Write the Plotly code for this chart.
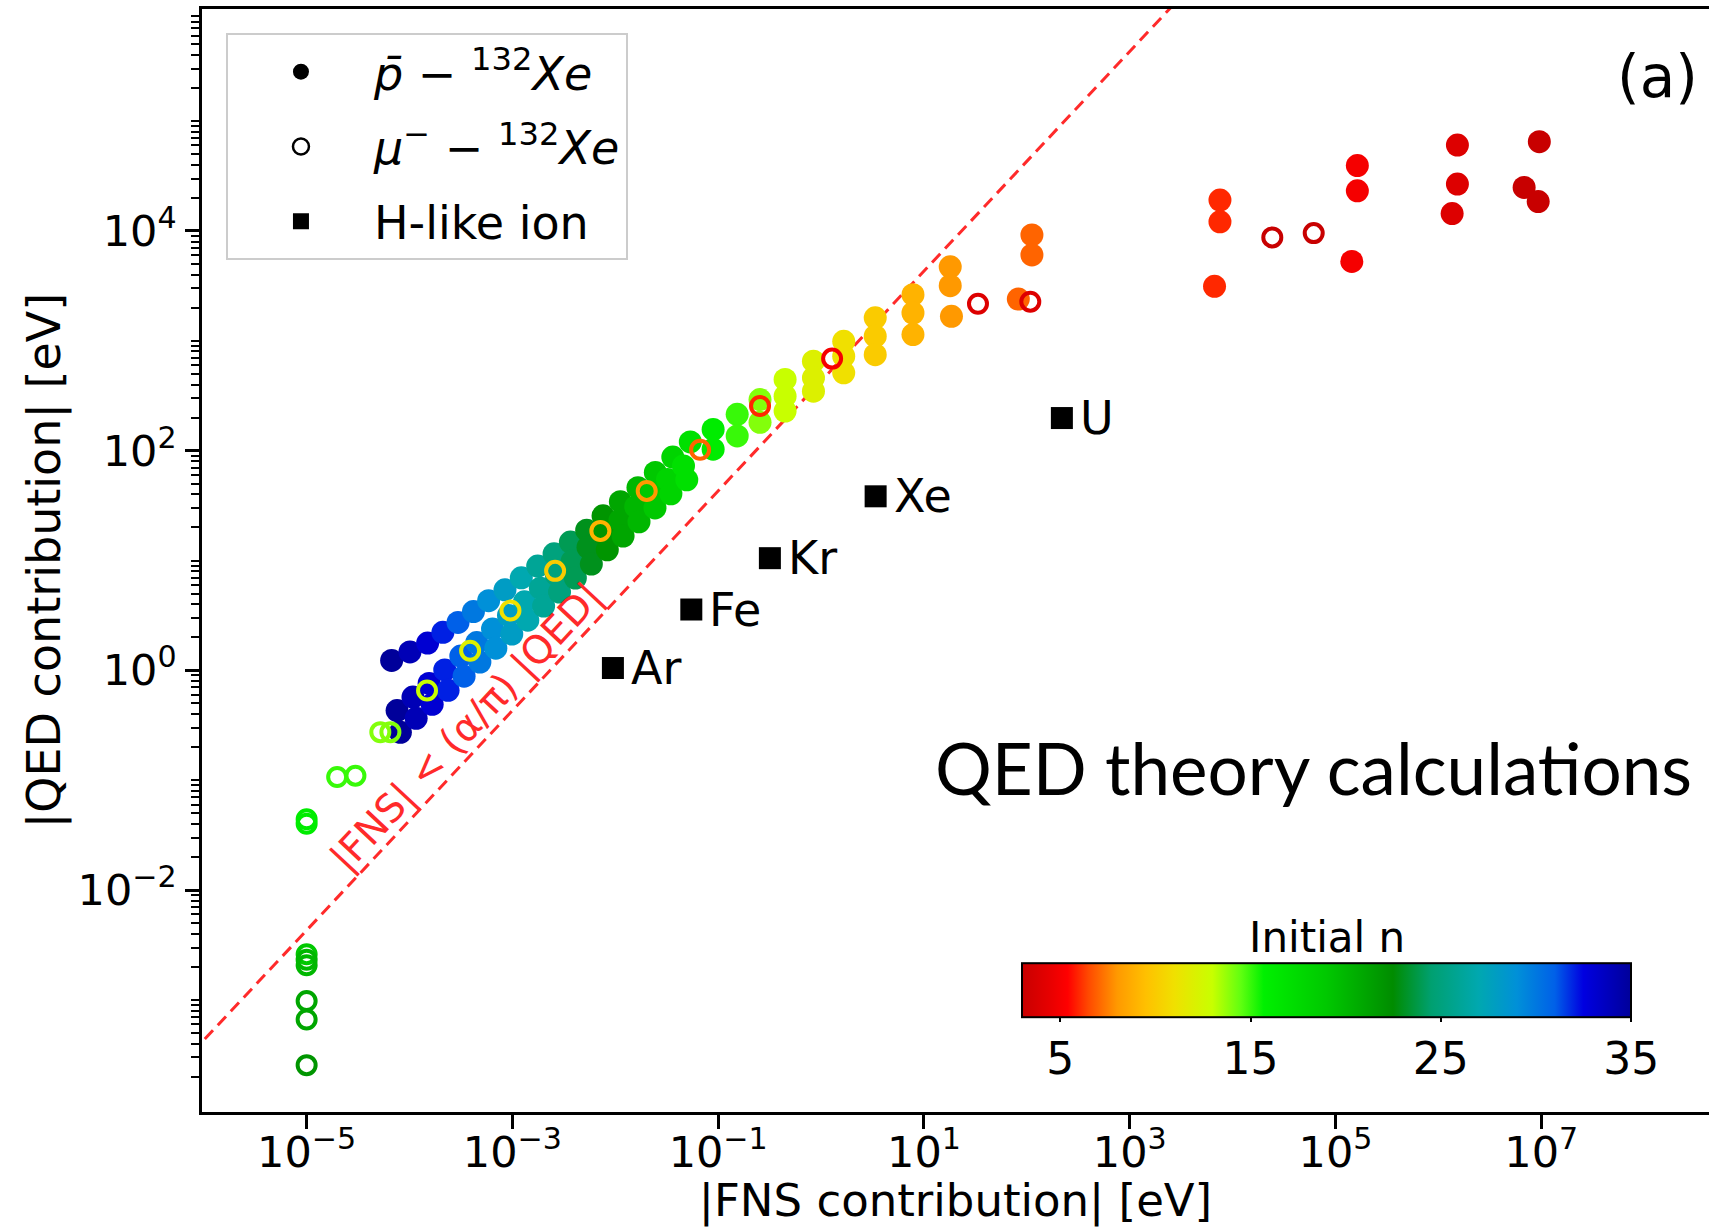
import math
import plotly.graph_objects as go

# ---------------- data ----------------
# p̄–132Xe, low initial n (groups of stacked transitions)
low_n = [3, 3, 3, 4, 4, 4, 5, 5, 5, 6, 6, 6, 7, 7, 7, 8, 8, 8, 9, 9, 9, 10, 10, 10,
         11, 11, 11, 12, 12, 12, 13, 13, 13, 14, 14, 15, 15, 16, 16]
low_fns = [9.57e6, 6.81e6, 9.33e6, 1.53e6, 1.53e6, 1.36e6, 1.63e5, 1.63e5, 1.44e5,
           7.53e3, 7.53e3, 6.67e3, 112, 112, 82.6, 18.0, 18.0, 18.5, 7.82, 7.82, 7.82,
           3.36, 3.36, 3.36, 1.66, 1.66, 1.66, 0.843, 0.843, 0.843, 0.447, 0.447, 0.447,
           0.255, 0.255, 0.153, 0.153, 0.0893, 0.0893]
low_qed = [6.49e4, 2.49e4, 1.85e4, 6.05e4, 2.67e4, 1.44e4, 3.93e4, 2.32e4, 5.28e3,
           1.91e4, 1.21e4, 3.13e3, 9.20e3, 6.05e3, 2.40e3, 4.71e3, 3.17e3, 1.67e3,
           2.63e3, 1.79e3, 1.14e3, 1.62e3, 1.10e3, 748, 989, 723, 511, 652, 460, 348,
           445, 313, 229, 292, 181, 214, 136, 156, 103]

# p̄–132Xe, high initial n (three chains)
chain_n = [35, 34, 33, 32, 31, 30, 29, 28, 27, 26, 25, 24, 23, 22, 21, 20, 19, 18, 17]
chainA_fns = [6.70e-5, 1.01e-4, 1.50e-4, 2.11e-4, 2.96e-4, 4.18e-4, 5.87e-4, 8.47e-4,
              1.22e-3, 1.76e-3, 2.54e-3, 3.66e-3, 5.27e-3, 7.60e-3, 1.12e-2, 1.66e-2,
              2.45e-2, 3.62e-2, 5.36e-2]
chainA_qed = [1.23, 1.47, 1.77, 2.22, 2.73, 3.43, 4.31, 5.41, 6.95, 8.91, 11.5, 14.7,
              18.9, 25.5, 34.3, 46.0, 63.4, 87.3, 120]
chainB_fns = [7.57e-5, 1.08e-4, 1.55e-4, 2.20e-4, 3.15e-4, 4.50e-4, 6.41e-4, 9.16e-4,
              1.31e-3, 1.87e-3, 2.67e-3, 3.81e-3, 5.43e-3, 7.76e-3, 1.11e-2, 1.58e-2,
              2.26e-2, 3.22e-2, 4.60e-2]
chainB_qed = [0.431, 0.571, 0.760, 1.01, 1.35, 1.79, 2.38, 3.16, 4.21, 5.60, 7.43, 9.89,
              13.2, 17.5, 23.2, 30.9, 41.1, 54.7, 72.6]
chainC_fns = [8.15e-5, 1.16e-4, 1.66e-4, 2.37e-4, 3.39e-4, 4.83e-4, 6.90e-4, 9.86e-4,
              1.41e-3, 2.01e-3, 2.87e-3, 4.09e-3, 5.85e-3, 8.36e-3, 1.19e-2, 1.70e-2,
              2.43e-2, 3.47e-2, 4.95e-2]
chainC_qed = [0.273, 0.366, 0.491, 0.659, 0.885, 1.19, 1.59, 2.14, 2.86, 3.85, 5.16, 6.93,
              9.29, 12.5, 16.7, 22.5, 30.1, 40.5, 54.3]

# mu-–132Xe (open circles)
mu_n = [3, 3, 4, 4, 5, 6, 7, 8, 9, 10, 11, 12, 13, 14, 14, 15, 15, 16, 16, 19, 20, 20, 21, 21, 22]
mu_fns = [6.14e4, 2.43e4, 108, 33.5, 1.28, 0.255, 0.0667, 0.0202, 7.16e-3, 2.60e-3,
          9.57e-4, 3.88e-4, 1.48e-4, 6.52e-5, 5.20e-5, 2.98e-5, 1.98e-5, 1e-5, 1e-5,
          1e-5, 1e-5, 1e-5, 1e-5, 1e-5, 1e-5]
mu_qed = [9.55e3, 8.73e3, 2270, 2173, 688, 255, 102, 43.0, 18.6, 8.05, 3.51, 1.51, 0.655,
          0.274, 0.274, 0.110, 0.107, 0.0441, 0.0402, 2.61e-3, 2.32e-3, 2.07e-3, 9.77e-4,
          6.63e-4, 2.55e-4]

# H-like ions (squares)
ion_names = ["Ar", "Fe", "Kr", "Xe", "U"]
ion_fns = [9.48e-3, 5.48e-2, 0.318, 3.39, 219]
ion_qed = [1.05, 3.58, 10.5, 38.4, 198]

alpha = 1 / 137.036
line_fns = [1e-7, 1e9]

x_tickvals = [1e-5, 1e-3, 1e-1, 1e1, 1e3, 1e5, 1e7]
x_ticktext = ["10<sup>−5</sup>", "10<sup>−3</sup>", "10<sup>−1</sup>", "10<sup>1</sup>",
              "10<sup>3</sup>", "10<sup>5</sup>", "10<sup>7</sup>"]
y_tickvals = [1e-2, 1e0, 1e2, 1e4]
y_ticktext = ["10<sup>−2</sup>", "10<sup>0</sup>", "10<sup>2</sup>", "10<sup>4</sup>"]
cbar_ticks = [5, 15, 25, 35]

# colour map for initial n (3 .. 35)
cmin, cmax = 3, 35
cmap = [(3, "#c80000"), (4.5, "#e80000"), (5.4, "#ff0000"), (6.5, "#ff4a00"),
        (8, "#ff9900"), (9.5, "#ffc000"), (11, "#f0e000"), (13, "#c8ff00"),
        (14.5, "#60ff10"), (15.7, "#00f000"), (19, "#00c800"), (22.5, "#008c00"),
        (24.5, "#00a070"), (27, "#00a8b0"), (29, "#0090d8"), (31, "#0060e8"),
        (32.5, "#0000e0"), (35, "#00009a")]
colorscale = [[(v - cmin) / (cmax - cmin), c] for v, c in cmap]

# ---------------- figure ----------------
FONT = "DejaVu Sans"
fig = go.Figure()

# dashed limit line |FNS| = (alpha/pi)|QED|
fig.add_trace(go.Scatter(x=line_fns, y=[v * math.pi / alpha for v in line_fns],
                         mode="lines", line=dict(color="#ff2a2a", width=3, dash="12px,7px"),
                         showlegend=False, hoverinfo="skip"))

pbar_n = low_n + chain_n + chain_n + chain_n
pbar_fns = low_fns + chainA_fns + chainB_fns + chainC_fns
pbar_qed = low_qed + chainA_qed + chainB_qed + chainC_qed

fig.add_trace(go.Scatter(
    x=pbar_fns, y=pbar_qed, mode="markers", showlegend=False,
    marker=dict(symbol="circle", size=23, color=pbar_n, colorscale=colorscale,
                cmin=cmin, cmax=cmax, line=dict(width=0),
                showscale=True,
                colorbar=dict(orientation="h", x=0.7463, xanchor="center",
                              y=0.024, yanchor="bottom", len=0.404, lenmode="fraction",
                              thickness=54, thicknessmode="pixels", xpad=0, ypad=0,
                              outlinecolor="black", outlinewidth=2,
                              tickvals=cbar_ticks, ticks="outside", ticklen=4,
                              tickwidth=2, tickcolor="black",
                              tickfont=dict(family=FONT, size=44, color="black"))),
))

fig.add_trace(go.Scatter(
    x=ion_fns, y=ion_qed, mode="markers", showlegend=False,
    marker=dict(symbol="square", size=22, color="black")))

fig.add_trace(go.Scatter(
    x=mu_fns, y=mu_qed, mode="markers", showlegend=False,
    marker=dict(symbol="circle-open", size=18, color=mu_n, colorscale=colorscale,
                cmin=cmin, cmax=cmax, line=dict(width=4))))

# legend proxies
fig.add_trace(go.Scatter(x=[None], y=[None], mode="markers", legendgroup="a",
                         name="<i>p̄</i> − <sup>132</sup><i>Xe</i>",
                         marker=dict(symbol="circle", size=22, color="black")))
fig.add_trace(go.Scatter(x=[None], y=[None], mode="markers", legendgroup="b",
                         name="<i>μ</i><sup>−</sup> − <sup>132</sup><i>Xe</i>",
                         marker=dict(symbol="circle-open", size=17, color="black",
                                     line=dict(width=2.5))))
fig.add_trace(go.Scatter(x=[None], y=[None], mode="markers", legendgroup="c",
                         name="H-like ion",
                         marker=dict(symbol="square", size=22, color="black")))

annotations = []
for name, fx, qy in zip(ion_names, ion_fns, ion_qed):
    annotations.append(dict(x=math.log10(fx), y=math.log10(qy), xref="x", yref="y",
                            text=name, showarrow=False, xanchor="left", yanchor="middle",
                            xshift=16, font=dict(family=FONT, size=46, color="black")))
annotations.append(dict(x=0.1755, y=0.349, xref="paper", yref="paper",
                        xanchor="center", yanchor="middle",
                        text="|FNS| < (α/π) |QED|", showarrow=False, textangle=-47,
                        font=dict(family=FONT, size=39, color="#ff2a2a")))
annotations.append(dict(x=0.7376, y=0.312, xref="paper", yref="paper",
                        xanchor="center", yanchor="middle",
                        text="QED theory calculations", showarrow=False,
                        font=dict(family="Lato", size=71, color="black")))
annotations.append(dict(x=0.9655, y=0.9385, xref="paper", yref="paper",
                        xanchor="center", yanchor="middle",
                        text="(a)", showarrow=False,
                        font=dict(family=FONT, size=58, color="black")))
annotations.append(dict(x=0.7463, y=0.1578, xref="paper", yref="paper",
                        xanchor="center", yanchor="middle",
                        text="Initial n", showarrow=False,
                        font=dict(family=FONT, size=42, color="black")))

minor_vals = [k * 10.0 ** d for d in range(-5, 7) for k in range(1, 10)
              if not (k == 1 and d % 2 == 0)]

fig.update_layout(
    width=1709, height=1227,
    margin=dict(l=202, r=0, t=9, b=113),
    paper_bgcolor="white", plot_bgcolor="white",
    font=dict(family=FONT, color="black"),
    annotations=annotations,
    legend=dict(x=0.0159, y=0.978, xanchor="left", yanchor="top", bgcolor="white",
                bordercolor="#cccccc", borderwidth=2, font=dict(family=FONT, size=46),
                itemwidth=136, tracegroupgap=12),
    xaxis=dict(type="log", range=[-6.017, 8.63], tickvals=x_tickvals, ticktext=x_ticktext,
               ticks="outside", ticklen=14, tickwidth=2.5, tickcolor="black",
               showline=True, linewidth=2.5, linecolor="black", mirror=True,
               showgrid=False, zeroline=False, ticklabelstandoff=-13,
               tickfont=dict(family=FONT, size=43, color="black"),
               title=dict(text="|FNS contribution| [eV]", standoff=18,
                          font=dict(family=FONT, size=45, color="black"))),
    yaxis=dict(type="log", range=[-4.02, 6.02], tickvals=y_tickvals, ticktext=y_ticktext,
               ticks="outside", ticklen=14, tickwidth=2.5, tickcolor="black",
               showline=True, linewidth=2.5, linecolor="black", mirror=False,
               showgrid=False, zeroline=False,
               minor=dict(tickvals=minor_vals, ticks="outside", ticklen=8, tickwidth=2,
                          tickcolor="black", showgrid=False),
               tickfont=dict(family=FONT, size=43, color="black"),
               title=dict(text="|QED contribution| [eV]", standoff=3,
                          font=dict(family=FONT, size=46, color="black"))),
)

fig.write_html("out.html")
